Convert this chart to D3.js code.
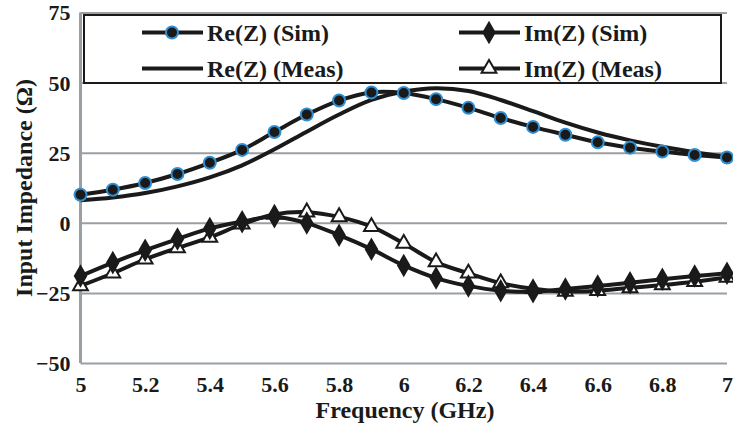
<!DOCTYPE html>
<html>
<head>
<meta charset="utf-8">
<script src="https://cdn.jsdelivr.net/npm/d3@7"></script>
<style>
  body { margin: 0; background: #fff; }
  svg text { font-family: "Liberation Serif", "Times New Roman", serif; font-weight: bold; fill: #1a1a1a; }
</style>
</head>
<body>
<div id="chart"></div>
<script>
// data
var freq = [5, 5.1, 5.2, 5.3, 5.4, 5.5, 5.6, 5.7, 5.8, 5.9, 6, 6.1, 6.2, 6.3, 6.4, 6.5, 6.6, 6.7, 6.8, 6.9, 7];
var reSim = [10, 11.8, 14.2, 17.4, 21.4, 26, 32.4, 38.6, 43.6, 46.5, 46.3, 44.1, 41, 37.4, 34.2, 31.4, 28.7, 26.8, 25.4, 24.2, 23.3];
var imSim = [-19, -14.2, -9.8, -5.8, -2, 0.4, 2.2, -0.1, -4.4, -9.4, -15.2, -19.7, -22.5, -24.2, -24.6, -23.6, -22.5, -21.4, -20.1, -19, -18];
var reMeas = [8, 9, 10.6, 13, 16.2, 20.5, 26.2, 32.5, 38.6, 43.8, 46.8, 48, 47, 43.8, 39.8, 35.7, 32.2, 29.4, 27.1, 25.2, 23.6];
var imMeas = [-22.5, -18, -13, -9, -5.2, -0.5, 3, 3.8, 2.1, -1.4, -7.4, -14, -18, -21.5, -23.5, -24.5, -24.2, -23.2, -22.2, -21, -19.5];
var xTicks = [5, 5.2, 5.4, 5.6, 5.8, 6, 6.2, 6.4, 6.6, 6.8, 7];
var yTicks = [-50, -25, 0, 25, 50, 75];
var seriesNames = ["Re(Z) (Sim)", "Im(Z) (Sim)", "Re(Z) (Meas)", "Im(Z) (Meas)"];

var W = 733, H = 429;
var margin = { top: 12.5, right: 6, bottom: 66, left: 80.5 };
var width = W - margin.left - margin.right;
var height = H - margin.top - margin.bottom;
var grey = "#9a9fa4";

var svg = d3.select("#chart").append("svg")
    .attr("width", W)
    .attr("height", H);

var xScale = d3.scaleLinear().domain([5, 7]).range([margin.left, margin.left + width]);
var yScale = d3.scaleLinear().domain([-50, 75]).range([margin.top + height, margin.top]);

// gridlines
var grid = svg.append("g")
    .attr("class", "grid")
    .attr("transform", "translate(" + margin.left + ",0)")
    .call(d3.axisLeft(yScale).tickValues(yTicks).tickSize(-width).tickFormat(""));
grid.select(".domain").remove();
grid.selectAll("line").attr("stroke", grey).attr("stroke-width", 2);

// left axis line
svg.append("line")
    .attr("x1", margin.left).attr("x2", margin.left)
    .attr("y1", yScale(75)).attr("y2", yScale(-50))
    .attr("stroke", grey).attr("stroke-width", 3);

// y tick labels
var yAxis = svg.append("g")
    .attr("transform", "translate(" + margin.left + ",0)")
    .call(d3.axisLeft(yScale).tickValues(yTicks).tickSize(0).tickPadding(10));
yAxis.select(".domain").remove();
yAxis.selectAll("text").attr("font-size", 22).attr("dy", "0.34em");

// x tick labels
var xAxis = svg.append("g")
    .attr("transform", "translate(0," + (margin.top + height) + ")")
    .call(d3.axisBottom(xScale).tickValues(xTicks).tickSize(0).tickPadding(13).tickFormat(d3.format("")));
xAxis.select(".domain").remove();
xAxis.selectAll("text").attr("font-size", 22);

// axis titles
svg.append("text")
    .attr("x", 405).attr("y", 418)
    .attr("text-anchor", "middle")
    .attr("font-size", 24)
    .text("Frequency (GHz)");
svg.append("text")
    .attr("transform", "translate(32,188) rotate(-90)")
    .attr("text-anchor", "middle")
    .attr("font-size", 24)
    .text("Input Impedance (Ω)");

var line = function (vals) {
    return d3.line()
        .x(function (d, i) { return xScale(freq[i]); })
        .y(function (d) { return yScale(d); })
        .curve(d3.curveCatmullRom)(vals);
};

var diamond = d3.symbol().type(d3.symbolDiamond).size(110);
var triangle = d3.symbol().type(d3.symbolTriangle).size(95);

function drawCircles(g, vals) {
    g.selectAll("circle").data(vals).enter().append("circle")
        .attr("cx", function (d, i) { return xScale(freq[i]); })
        .attr("cy", function (d) { return yScale(d); })
        .attr("r", 6)
        .attr("fill", "#1a1a1a")
        .attr("stroke", "#2f8fd2")
        .attr("stroke-width", 2);
}
function drawSymbols(g, vals, sym, fill) {
    g.selectAll("path").data(vals).enter().append("path")
        .attr("d", sym)
        .attr("transform", function (d, i) { return "translate(" + xScale(freq[i]) + "," + yScale(d) + ")"; })
        .attr("fill", fill)
        .attr("stroke", "#1a1a1a")
        .attr("stroke-width", 2);
}

var plot = svg.append("g").attr("class", "series");

// measured re
plot.append("path").attr("d", line(reMeas))
    .attr("fill", "none").attr("stroke", "#1a1a1a").attr("stroke-width", 4);
// measured im
plot.append("path").attr("d", line(imMeas))
    .attr("fill", "none").attr("stroke", "#1a1a1a").attr("stroke-width", 4);
drawSymbols(plot.append("g"), imMeas, triangle, "#fff");
// simulated re
plot.append("path").attr("d", line(reSim))
    .attr("fill", "none").attr("stroke", "#1a1a1a").attr("stroke-width", 4);
drawCircles(plot.append("g"), reSim);
// simulated im
plot.append("path").attr("d", line(imSim))
    .attr("fill", "none").attr("stroke", "#1a1a1a").attr("stroke-width", 4);
drawSymbols(plot.append("g"), imSim, diamond, "#1a1a1a");

// legend
var legend = svg.append("g").attr("class", "legend");
legend.append("rect")
    .attr("x", 84).attr("y", 15).attr("width", 637).attr("height", 68)
    .attr("fill", "#fff").attr("stroke", "#1a1a1a").attr("stroke-width", 2);

var legPos = [
    { x: 142, y: 32.5 }, { x: 459, y: 32.5 },
    { x: 142, y: 68.5 }, { x: 459, y: 68.5 }
];
seriesNames.forEach(function (name, k) {
    var p = legPos[k];
    var g = legend.append("g").attr("transform", "translate(" + p.x + "," + p.y + ")");
    g.append("line").attr("x1", 0).attr("x2", 61).attr("y1", 0).attr("y2", 0)
        .attr("stroke", "#1a1a1a").attr("stroke-width", 4);
    if (k === 0) {
        g.append("circle").attr("cx", 30).attr("cy", 0).attr("r", 6)
            .attr("fill", "#1a1a1a").attr("stroke", "#2f8fd2").attr("stroke-width", 2);
    } else if (k === 1) {
        g.append("path").attr("d", diamond).attr("transform", "translate(30,0)")
            .attr("fill", "#1a1a1a").attr("stroke", "#1a1a1a").attr("stroke-width", 2);
    } else if (k === 3) {
        g.append("path").attr("d", triangle).attr("transform", "translate(30,0)")
            .attr("fill", "#fff").attr("stroke", "#1a1a1a").attr("stroke-width", 2);
    }
    g.append("text").attr("x", 65).attr("y", 8.5)
        .attr("font-size", 24)
        .text(name);
});
</script>
</body>
</html>
